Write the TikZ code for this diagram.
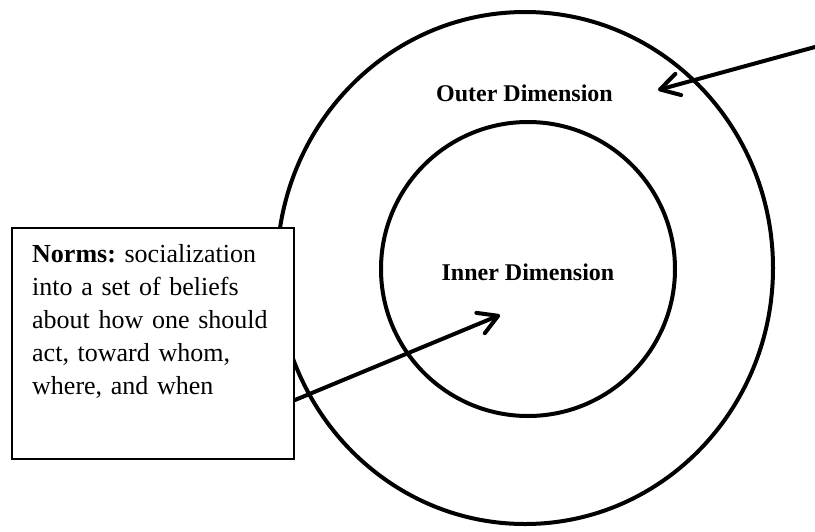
\documentclass[tikz,border=0pt]{standalone}
\usepackage{fontspec}
\setmainfont{Liberation Serif}
\usetikzlibrary{positioning, arrows.meta, shapes.geometric}

\tikzset{
  ring/.style={draw=black, line width=4pt, inner sep=0pt},
  dimlabel/.style={font=\fontsize{24}{28}\selectfont\bfseries, inner sep=0pt, anchor=base},
  pointer/.style={-{Straight Barb[length=19pt, width=22pt, round]}, line width=4pt, line cap=round},
}

\begin{document}
\begin{tikzpicture}[x=1pt, y=-1pt]
  \useasboundingbox (0,0) rectangle (815,531);
  % the two dimensions
  \node[ellipse, ring, minimum width=496pt, minimum height=512pt] (outer) at (525,268) {};
  \node[circle, ring, minimum size=294pt] (inner) at (528,269) {};
  \node[dimlabel] (outerlabel) at (524.5,101) {Outer Dimension};
  \node[dimlabel] (innerlabel) at (528,280) {Inner Dimension};

  % norms box
  \node[draw=black, fill=white, line width=2pt, anchor=north west,
        minimum width=282pt, minimum height=231pt] (normsbox) at (11,227) {};
  \node[anchor=north west, inner sep=0pt, text width=250pt, align=left,
        font=\fontsize{26}{33}\selectfont\frenchspacing] (normstext) at (32,244)
        {\textbf{Norms:} socialization\\ into a set of beliefs\\ about how one should\\ act, toward whom,\\ where, and when};

  % pointers
  \coordinate (outerfree) at (815,47);
  \coordinate (outertip) at (658,90);
  \coordinate (innertip) at (500,315);
  \draw[pointer] (outerfree) -- (outertip);
  \draw[pointer] ([yshift=60pt]normsbox.south east) -- (innertip);
\end{tikzpicture}
\end{document}
